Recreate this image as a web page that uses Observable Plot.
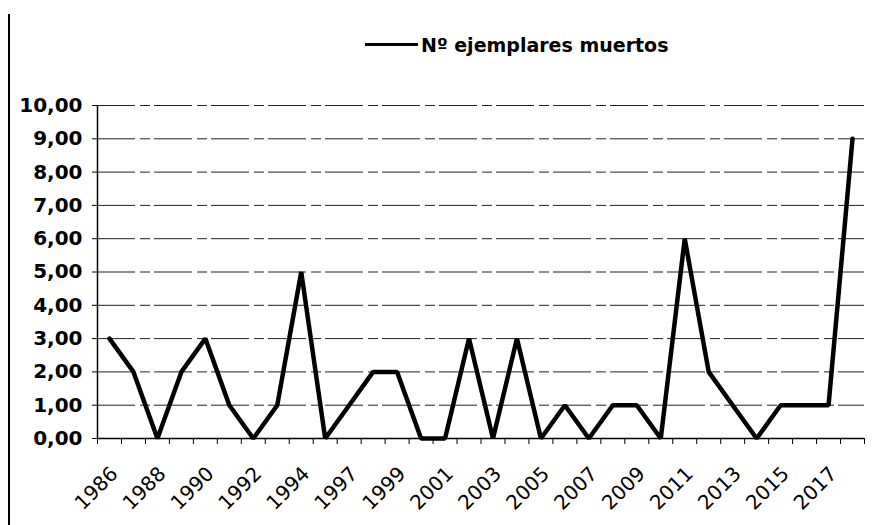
<!DOCTYPE html>
<html>
<head>
<meta charset="utf-8">
<script src="https://cdn.jsdelivr.net/npm/d3@7"></script>
<script src="https://cdn.jsdelivr.net/npm/@observablehq/plot@0.6"></script>
<style>
  html, body { margin: 0; padding: 0; background: #fff; }
  #wrap { position: relative; width: 883px; height: 525px; overflow: hidden; font-family: "DejaVu Sans", sans-serif; }
  #border { position: absolute; left: 8px; top: 14px; width: 2px; height: 520px; background: #000; }
  #legend { position: absolute; left: 365px; top: 33px; height: 24px; line-height: 24px; font-size: 19px; font-weight: bold; color: #000; white-space: nowrap; }
  #legend .sw { display: inline-block; width: 53px; height: 3px; background: #000; vertical-align: middle; margin-right: 3px; position: relative; top: -2px; }
  #chart { position: absolute; left: 0; top: 0; }
</style>
</head>
<body>
<div id="wrap">
  <div id="chart"></div>
  <div id="border"></div>
  <div id="legend"><span class="sw"></span>Nº ejemplares muertos</div>
</div>
<script>
// Data
const years = ["1986","1987","1988","1989","1990","1991","1992","1993","1994","1995",
               "1997","1998","1999","2000","2001","2002","2003","2004","2005","2006",
               "2007","2008","2009","2010","2011","2012","2013","2014","2015","2016",
               "2017","2018"];
const muertos = [3,2,0,2,3,1,0,1,5,0,
                 1,2,2,0,0,3,0,3,0,1,
                 0,1,1,0,6,2,1,0,1,1,
                 1,9];
const yTicks = [0,1,2,3,4,5,6,7,8,9,10];

const data = years.map((y, i) => ({i, year: y, v: muertos[i]}));
const idx = years.map((_, i) => i);
const boundaries = [...idx.map(i => i - 0.5), years.length - 0.5];
const labelIdx = idx.filter(i => i % 2 === 0);
const fmt = d => d.toFixed(2).replace(".", ",");

const chart = Plot.plot({
  width: 883,
  height: 525,
  marginLeft: 97,
  marginRight: 19,
  marginTop: 105,
  marginBottom: 87,
  style: {fontFamily: "DejaVu Sans, sans-serif", background: "transparent", overflow: "visible"},
  x: {type: "linear", domain: [-0.5, years.length - 0.5], axis: null},
  y: {domain: [0, 10], axis: null},
  marks: [
    Plot.ruleY(yTicks.filter(v => v > 0), {stroke: "#222", strokeWidth: 1, strokeDasharray: "38,5,10,4"}),
    Plot.ruleY([0], {stroke: "#000", strokeWidth: 1.5}),
    Plot.ruleX([-0.5], {stroke: "#000", strokeWidth: 1.5}),
    Plot.axisY(yTicks, {tickSize: 5, tickPadding: 10, tickFormat: fmt, fontSize: 20, fontWeight: "bold", anchor: "left", label: null}),
    Plot.axisX(boundaries, {tickSize: 6, tickFormat: () => "", anchor: "bottom", label: null}),
    Plot.text(labelIdx, {x: d => d, y: () => 0, text: d => years[d], rotate: -45, textAnchor: "end",
                         dx: 5, dy: 32, fontSize: 20, fill: "#000"}),
    Plot.line(data, {x: "i", y: "v", stroke: "#000", strokeWidth: 4.5, strokeLinejoin: "miter"})
  ]
});
document.getElementById("chart").appendChild(chart);
</script>
</body>
</html>
